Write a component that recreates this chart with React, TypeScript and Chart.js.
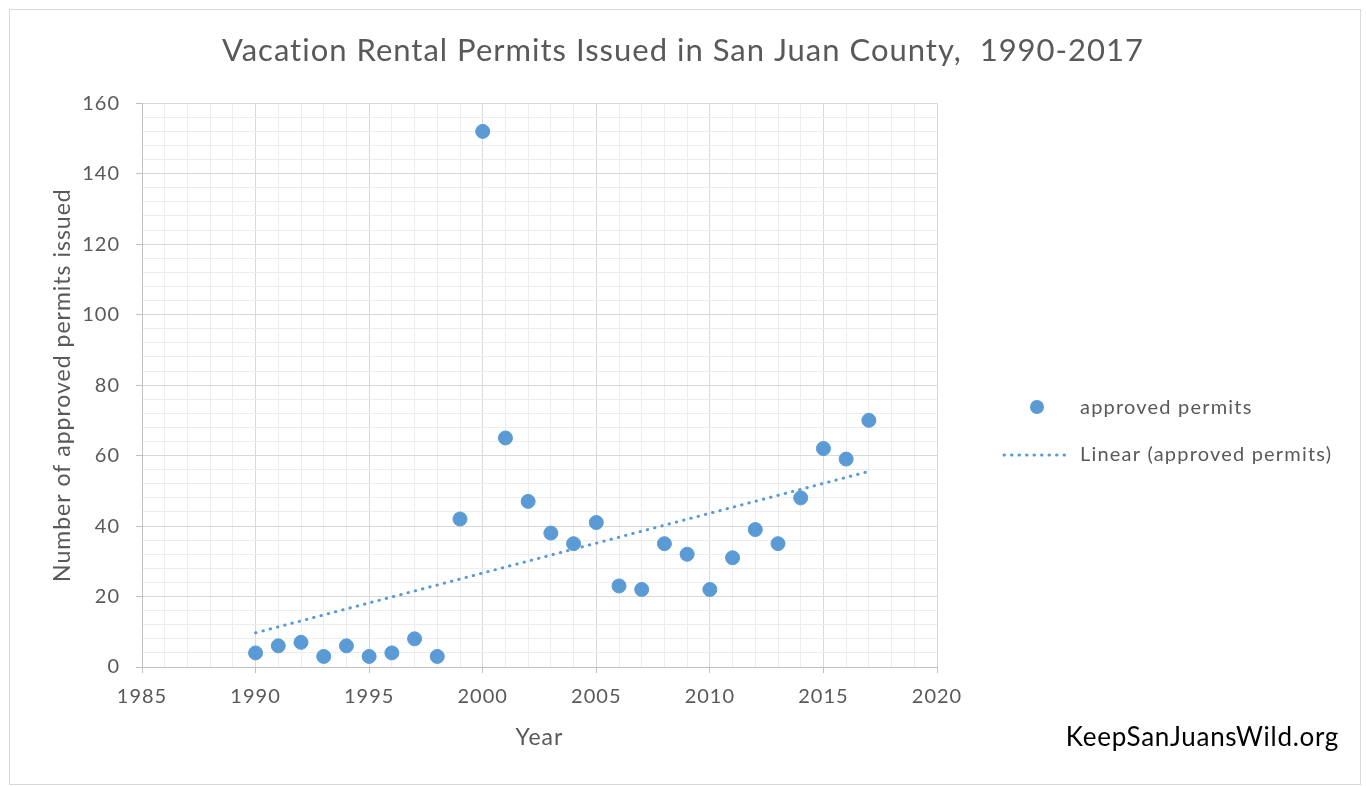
import React, { useEffect, useRef } from "react";
import { Chart, registerables } from "chart.js";

Chart.register(...registerables);

const chartTitle = "Vacation Rental Permits Issued in San Juan County,  1990-2017";
const xAxisTitle = "Year";
const yAxisTitle = "Number of approved permits issued";
const footerText = "KeepSanJuansWild.org";

const years = [
  1990, 1991, 1992, 1993, 1994, 1995, 1996, 1997, 1998, 1999, 2000, 2001, 2002, 2003,
  2004, 2005, 2006, 2007, 2008, 2009, 2010, 2011, 2012, 2013, 2014, 2015, 2016, 2017,
];
const permits = [
  4, 6, 7, 3, 6, 3, 4, 8, 3, 42, 152, 65, 47, 38,
  35, 41, 23, 22, 35, 32, 22, 31, 39, 35, 48, 62, 59, 70,
];
const seriesLabel = "approved permits";
const trendLabel = "Linear (approved permits)";
const trendYears = [1990, 2017];
const trendValues = [9.7, 55.5];

const xMin = 1985;
const xMax = 2020;
const xMajorStep = 5;
const xMinorStep = 1;
const yMin = 0;
const yMax = 160;
const yMajorStep = 20;
const yMinorStep = 4;

const FONT = "Lato, 'Open Sans', sans-serif";
const TEXT = "#595959";
const BLUE = "#5b9bd5";
const MAJOR_GRID = "#d9d9d9";
const MINOR_GRID = "#ededed";
const AXIS = "#bfbfbf";

const overlayPlugin = {
  id: "overlay",
  beforeDraw(chart: any) {
    (chart.ctx as any).letterSpacing = "1px";
  },
  afterDraw(chart: any) {
    const ctx = chart.ctx;
    ctx.save();
    // outer frame
    ctx.strokeStyle = MAJOR_GRID;
    ctx.lineWidth = 1;
    ctx.strokeRect(9.5, 9.5, 1351, 775);
    // legend
    const ds = chart.data.datasets;
    ctx.fillStyle = BLUE;
    ctx.beginPath();
    ctx.arc(1037, 407, 7, 0, Math.PI * 2);
    ctx.fill();
    ctx.strokeStyle = BLUE;
    ctx.lineWidth = 3;
    ctx.lineCap = "round";
    ctx.setLineDash([0.5, 7]);
    ctx.beginPath();
    ctx.moveTo(1004, 455);
    ctx.lineTo(1070, 455);
    ctx.stroke();
    ctx.setLineDash([]);
    ctx.fillStyle = TEXT;
    ctx.font = `20px ${FONT}`;
    (ctx as any).letterSpacing = "1.2px";
    ctx.textBaseline = "middle";
    ctx.textAlign = "left";
    ctx.fillText(ds[0].label, 1080, 408);
    ctx.fillText(ds[1].label, 1080, 455);
    // footer
    ctx.fillStyle = "#000000";
    ctx.font = `26px ${FONT}`;
    (ctx as any).letterSpacing = "0.7px";
    ctx.textAlign = "right";
    ctx.fillText(footerText, 1339, 738);
    ctx.restore();
    (ctx as any).letterSpacing = "0px";
  },
};

export default function App() {
  const ref = useRef<HTMLCanvasElement | null>(null);

  useEffect(() => {
    if (!ref.current) return;
    const chart = new Chart(ref.current, {
      type: "scatter",
      data: {
        datasets: [
          {
            label: seriesLabel,
            data: years.map((x, i) => ({ x, y: permits[i] })),
            backgroundColor: BLUE,
            borderColor: BLUE,
            pointRadius: 7,
            pointBorderWidth: 1,
            order: 1,
          } as any,
          {
            label: trendLabel,
            type: "line",
            data: trendYears.map((x, i) => ({ x, y: trendValues[i] })),
            borderColor: BLUE,
            borderWidth: 3,
            borderDash: [0.5, 7],
            borderCapStyle: "round",
            pointRadius: 0,
            showLine: true,
            fill: false,
            order: 0,
          } as any,
        ],
      },
      options: {
        responsive: false,
        animation: false,
        devicePixelRatio: 1,
        layout: { padding: 0 },
        plugins: {
          legend: { display: false },
          tooltip: { enabled: false },
          title: {
            display: true,
            text: chartTitle,
            color: TEXT,
            font: { family: FONT, size: 31, weight: "normal" as any },
            padding: { top: 32, bottom: 34 },
          },
        },
        scales: {
          x: {
            type: "linear",
            position: "bottom",
            min: xMin,
            max: xMax,
            afterFit: (s: any) => {
              s.height = 119;
            },
            ticks: {
              stepSize: xMinorStep,
              autoSkip: false,
              maxRotation: 0,
              padding: 12,
              color: TEXT,
              font: { family: FONT, size: 20 },
              callback: (v: any) => (Number(v) % xMajorStep === 0 ? String(v) : ""),
            },
            grid: {
              color: (c: any) => (c.tick && c.tick.value % xMajorStep === 0 ? MAJOR_GRID : MINOR_GRID),
              tickColor: (c: any) => (c.tick && c.tick.value % xMajorStep === 0 ? AXIS : "rgba(0,0,0,0)"),
              tickLength: 6,
              lineWidth: 1,
            },
            border: { color: AXIS, width: 1 },
            title: {
              display: true,
              text: xAxisTitle,
              color: TEXT,
              font: { family: FONT, size: 23 },
              padding: { top: 0, bottom: 35 },
            },
          },
          y: {
            type: "linear",
            position: "left",
            min: yMin,
            max: yMax,
            afterFit: (s: any) => {
              s.width = 142;
            },
            ticks: {
              stepSize: yMinorStep,
              autoSkip: false,
              padding: 16,
              color: TEXT,
              font: { family: FONT, size: 20 },
              callback: (v: any) => (Number(v) % yMajorStep === 0 ? String(v) : ""),
            },
            grid: {
              color: (c: any) => (c.tick && c.tick.value % yMajorStep === 0 ? MAJOR_GRID : MINOR_GRID),
              tickColor: (c: any) => (c.tick && c.tick.value % yMajorStep === 0 ? AXIS : "rgba(0,0,0,0)"),
              tickLength: 6,
              lineWidth: 1,
            },
            border: { color: AXIS, width: 1 },
            title: {
              display: true,
              text: yAxisTitle,
              color: TEXT,
              font: { family: FONT, size: 23 },
              padding: { top: 49, bottom: 0 },
            },
          },
          yRight: {
            type: "linear",
            position: "right",
            display: true,
            afterFit: (s: any) => {
              s.width = 429;
            },
            ticks: { display: false },
            grid: { display: false, drawTicks: false },
            border: { display: false },
          },
        },
      },
      plugins: [overlayPlugin],
    });
    return () => chart.destroy();
  }, []);

  return (
    <div style={{ position: "absolute", left: 0, top: 0, width: 1366, height: 786, background: "#ffffff" }}>
      <canvas ref={ref} width={1366} height={786} style={{ display: "block" }} />
    </div>
  );
}
